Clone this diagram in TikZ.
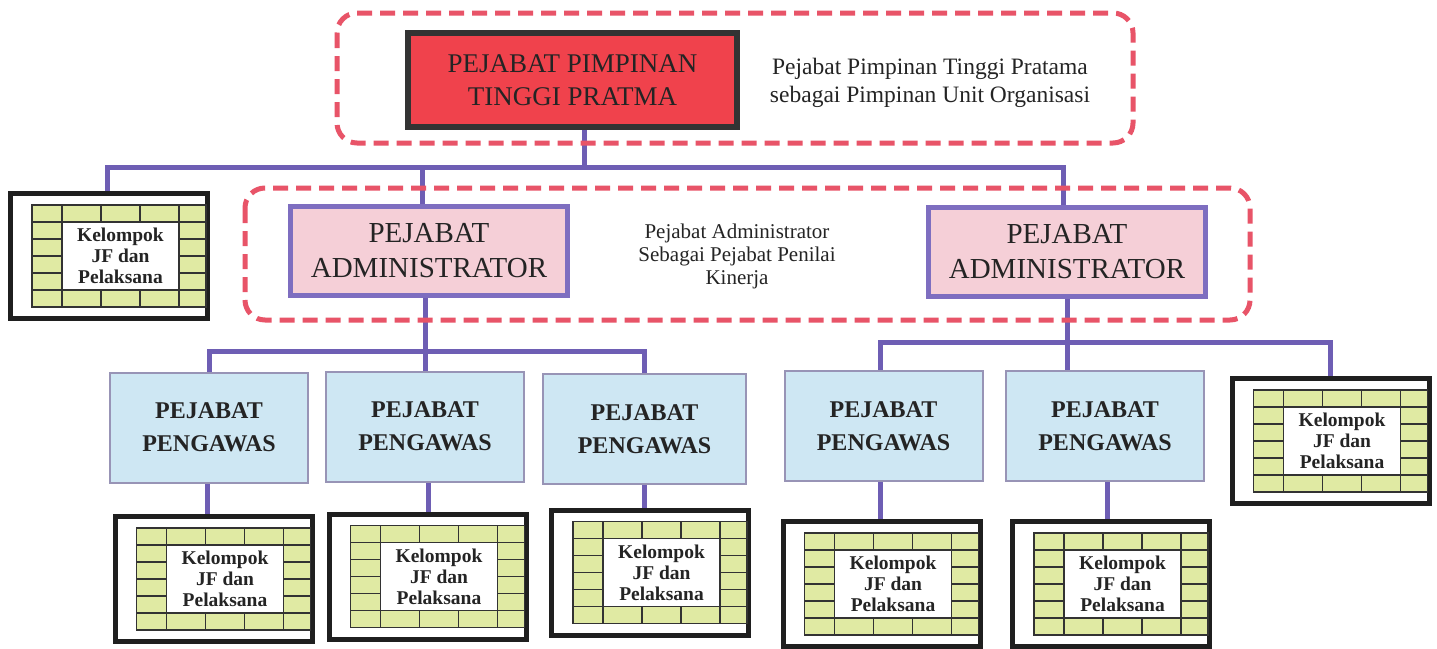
\documentclass[tikz,border=0pt]{standalone}
\usepackage{fontspec}
\setmainfont{Liberation Serif}
\usetikzlibrary{backgrounds}
\definecolor{dashred}{RGB}{232,84,104}
\definecolor{topred}{RGB}{240,66,76}
\definecolor{connpurple}{RGB}{110,94,180}
\definecolor{admfill}{RGB}{245,207,215}
\definecolor{admborder}{RGB}{126,110,192}
\definecolor{pengfill}{RGB}{206,231,243}
\definecolor{pengborder}{RGB}{152,148,182}
\definecolor{gridfill}{RGB}{224,234,163}
\definecolor{txt}{RGB}{36,36,36}
\tikzset{
  dashbox/.style={draw=dashred, line width=5pt, dash pattern=on 15pt off 8pt, rounded corners=20pt},
  connline/.style={draw=connpurple, line width=5pt},
  topbox/.style={draw=black!80, fill=topred, line width=6pt, inner sep=0pt, outer sep=0pt,
    minimum width=329pt, minimum height=94pt, align=center, text=txt,
    font=\fontsize{27}{33}\selectfont},
  admbox/.style={draw=admborder, fill=admfill, line width=5pt, inner sep=0pt, outer sep=0pt,
    minimum width=277pt, minimum height=89pt, align=center, text=txt,
    font=\fontsize{29}{35}\selectfont},
  pengbox/.style={draw=pengborder, fill=pengfill, line width=2pt, inner sep=0pt, outer sep=0pt,
    minimum width=198pt, minimum height=110pt, align=center, text=txt,
    font=\bfseries\fontsize{24}{33}\selectfont},
  kelframe/.style={draw=black!88, fill=white, line width=5pt, inner sep=0pt, outer sep=0pt,
    minimum width=197pt, minimum height=125pt},
  gridline/.style={draw=black!80, line width=1.6pt},
  keltext/.style={inner sep=0pt, align=center, text=txt, font=\bfseries\fontsize{19.5}{21}\selectfont},
  sidetext/.style={inner sep=0pt, align=center, text=txt, font=\fontsize{21}{26}\selectfont}
}
\newcommand\kelgroup[3]{%
  \node[kelframe] (#1) at (#2,#3) {};
  \begin{scope}[shift={(#1.center)}]
    \fill[gridfill] (-77,-51) rectangle (97,51);
    \fill[white] (-47,-34) rectangle (70,34);
    \draw[gridline] (-77,-51) rectangle (97,51);
    \draw[gridline] (-77,-34) -- (97,-34) (-77,34) -- (97,34);
    \draw[gridline] (-47,-51) -- (-47,51) (70,-51) -- (70,51);
    \foreach \gx in {-8,31} {\draw[gridline] (\gx,-51) -- (\gx,-34) (\gx,34) -- (\gx,51);}
    \foreach \gy in {-17,0,17} {\draw[gridline] (-77,\gy) -- (-47,\gy) (70,\gy) -- (97,\gy);}
    \node[keltext] (#1-t) at (11.5,0) {Kelompok\\JF dan\\Pelaksana};
  \end{scope}}
\begin{document}
\begin{tikzpicture}[x=1pt,y=-1pt]
\useasboundingbox (0,0) rectangle (1437,648);
% dashed groups
\draw[dashbox] (337,13) rectangle (1133,143);
\draw[dashbox] (245,188) rectangle (1250,320);
% top
\node[topbox] (ppt) at (572.5,80) {PEJABAT PIMPINAN\\TINGGI PRATMA};
\node[sidetext, font=\fontsize{23.5}{28}\selectfont] (pptnote) at (930,83) {Pejabat Pimpinan Tinggi Pratama\\sebagai Pimpinan Unit Organisasi};
% administrators
\node[admbox] (adm1) at (429,251) {PEJABAT\\ADMINISTRATOR};
\node[admbox] (adm2) at (1067,251.5) {PEJABAT\\ADMINISTRATOR};
\node[sidetext, font=\fontsize{21}{23}\selectfont] (admnote) at (737,256) {Pejabat Administrator\\Sebagai Pejabat Penilai\\Kinerja};
% pengawas
\node[pengbox] (p1) at (209,427.5) {PEJABAT\\PENGAWAS};
\node[pengbox] (p2) at (425,426.5) {PEJABAT\\PENGAWAS};
\node[pengbox, minimum width=203pt] (p3) at (644.5,429) {PEJABAT\\PENGAWAS};
\node[pengbox] (p4) at (883.5,426) {PEJABAT\\PENGAWAS};
\node[pengbox] (p5) at (1105,426) {PEJABAT\\PENGAWAS};
% kelompok
\kelgroup{k0}{109}{256}
\kelgroup{k1}{213.5}{579}
\kelgroup{k2}{427.5}{576.5}
\kelgroup{k3}{650}{572.5}
\kelgroup{k4}{881.5}{584}
\kelgroup{k5}{1111}{584}
\kelgroup{k6}{1330.5}{441}
% connectors
\coordinate (busA) at (0,167);
\coordinate (busB) at (0,351);
\coordinate (busC) at (0,342);
\begin{scope}[on background layer]
\fill[white] (0,0) rectangle (1437,648);
\draw[connline] ([xshift=12pt]ppt.south) -- ([xshift=12pt]ppt.south |- busA);
\draw[connline] ([xshift=-2pt]k0.north) |- ([xshift=-4pt]adm2.north |- busA) -- ([xshift=-4pt]adm2.north);
\draw[connline] ([xshift=-7pt]adm1.north) -- ([xshift=-7pt]adm1.north |- busA);
\draw[connline] (p2.north |- adm1.south) -- (p2.north);
\draw[connline] (p1.north) |- (p3.north |- busB) -- (p3.north);
\draw[connline] (adm2.south) -- (adm2.south |- p5.north);
\draw[connline] ([xshift=-3pt]p4.north) |- (k6.north |- busC) -- (k6.north);
\draw[connline] ([xshift=-2pt]p1.south) -- ([xshift=-2pt]p1.south |- k1.north);
\draw[connline] ([xshift=3pt]p2.south) -- ([xshift=3pt]p2.south |- k2.north);
\draw[connline] (p3.south) -- (p3.south |- k3.north);
\draw[connline] ([xshift=-3pt]p4.south) -- ([xshift=-3pt]p4.south |- k4.north);
\draw[connline] ([xshift=2pt]p5.south) -- ([xshift=2pt]p5.south |- k5.north);
\end{scope}
\end{tikzpicture}
\end{document}
